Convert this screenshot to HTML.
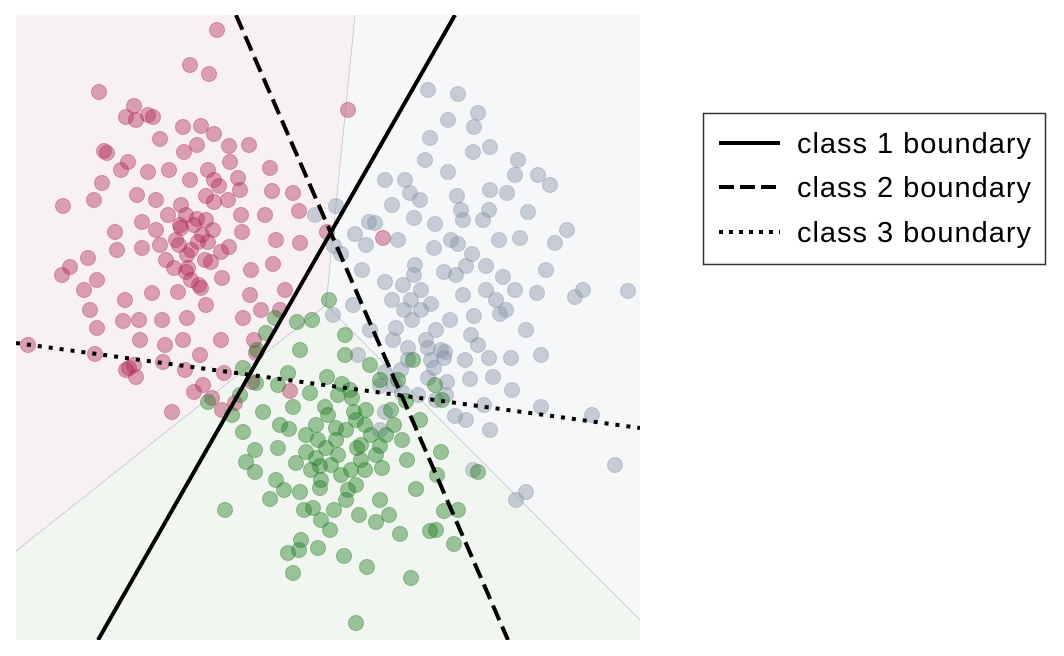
<!DOCTYPE html>
<html><head><meta charset="utf-8"><style>
html,body{margin:0;padding:0;background:#fff;}
svg{display:block;font-family:"Liberation Sans",sans-serif;}
</style></head><body>
<svg id="chart" width="1064" height="656" viewBox="0 0 1064 656">
<defs><clipPath id="clip"><rect x="16" y="15" width="624" height="625"/></clipPath></defs>
<g id="regions" clip-path="url(#clip)"></g>
<g id="points" clip-path="url(#clip)"></g>
<g id="lines" clip-path="url(#clip)"></g>
<g>
<rect x="703.5" y="113.5" width="342" height="151" fill="#fff" stroke="#333" stroke-width="1.5"/>
<line x1="719" y1="143" x2="780" y2="143" stroke="#000" stroke-width="4"/>
<text x="797" y="153" font-size="29" textLength="234">class 1 boundary</text>
<line x1="719" y1="187" x2="780" y2="187" stroke="#000" stroke-width="4" stroke-dasharray="15 6"/>
<text x="797" y="197" font-size="29" textLength="234">class 2 boundary</text>
<line x1="719" y1="232" x2="780" y2="232" stroke="#000" stroke-width="4" stroke-dasharray="4 6"/>
<text x="797" y="242" font-size="29" textLength="234">class 3 boundary</text>
</g>
</svg>
<script>
// data coordinates: x in [0,624], y in [0,625]
const class1X=[201,174,193,83,110,118,137,167,185,198,144,181,88,91,213,233,112,168,86,105,132,153,174,192,203,224,254,256,277,47,78,121,140,165,190,225,249,283,99,126,164,181,197,226,260,284,54,72,101,126,144,171,189,213,235,257,68,81,109,136,162,183,206,234,269,107,123,146,171,190,227,264,81,124,149,167,184,205,238,245,46,74,113,120,147,169,187,208,240,12,79,156,178,196,367,332,311,274,236,219,206,170,178,186,192,160,165,175,182,190,198,150,158,170,175,185,195,205,212,140,152,163,172,120,132,198,214,222,110,118];
const class1Y=[610,575,566,548,523,534,523,513,514,506,501,495,489,487,494,495,478,488,457,470,468,470,460,470,454,450,472,449,447,434,440,445,440,435,444,425,425,429,408,418,415,421,410,408,400,397,373,382,390,392,395,385,380,393,370,376,350,360,340,347,348,355,362,345,350,319,320,320,322,335,322,330,312,300,295,300,285,300,300,330,365,330,272,263,278,270,255,267,287,295,286,228,248,242,402,530,408,249,258,237,230,425,415,405,398,400,412,390,398,420,438,380,372,368,360,352,378,388,440,410,425,395,372,520,525,460,478,462,270,275];
const class2X=[412,442,462,458,474,432,414,457,409,432,369,389,394,376,404,441,474,499,502,522,534,491,473,512,551,539,467,447,419,398,353,339,325,382,399,418,442,456,483,504,530,559,612,567,521,499,487,470,450,428,405,387,369,346,318,376,396,415,434,458,484,510,525,495,473,449,429,412,392,377,354,337,317,342,369,412,431,454,477,496,525,576,599,510,500,457,468,450,439,474,430,420,402,386,369,364,364,299,320,359,410,420,425,415,405,395,440,447,455,462,418,428,398,388,380,435,445,470,480,490,378,385,392,350];
const class2Y=[550,546,527,513,493,520,502,488,480,468,460,460,447,435,440,444,450,465,480,465,455,447,430,428,410,397,420,420,416,422,418,406,386,400,375,392,396,386,400,402,370,343,349,350,347,350,363,374,374,368,350,355,358,370,394,340,320,336,320,324,326,310,285,282,282,280,288,292,292,300,310,335,325,285,268,262,258,261,263,250,233,225,175,148,140,170,235,220,224,210,245,240,245,247,228,210,254,425,434,417,300,310,290,280,330,340,365,345,305,295,272,282,365,330,312,400,430,350,340,330,255,270,280,395];
const class3X=[192,227,241,250,259,281,296,313,329,329,284,272,262,240,224,216,227,247,239,239,262,264,277,294,311,326,336,354,364,382,397,419,426,404,386,364,349,338,320,302,290,280,260,254,284,304,332,366,391,425,462,421,400,373,360,343,314,285,272,283,302,328,351,384,428,442,414,420,438,395,340,277,209,304,322,341,375,390,349,309,364,297,334,273,230,300,310,320,330,340,350,355,345,335,325,315,305,295,290,300,312,322,345,360,370,378,340,330,318,305,288,268];
const class3Y=[238,272,290,307,322,318,320,340,305,285,290,267,255,257,245,225,208,228,190,168,192,215,233,247,263,256,242,275,260,260,280,255,240,220,200,194,215,228,212,200,188,177,160,141,148,152,150,172,180,188,168,165,151,125,118,125,110,100,87,90,92,84,73,106,129,130,109,110,96,62,17,67,130,174,185,192,230,239,170,233,140,132,250,211,178,182,192,200,210,220,230,205,180,170,165,175,160,170,205,215,225,245,195,185,205,215,155,140,130,120,130,150];
const regionPolys={
  class1:[[0,89],[0,625],[339,625],[310,335]],
  class2:[[339,625],[624,625],[624,20],[310,335]],
  class3:[[0,89],[310,335],[624,20],[624,0],[0,0]]
};
const regionEdgesX=[[0,310],[339,310],[624,310]];
const regionEdgesY=[[89,335],[625,335],[20,335]];
const boundaryX1=[82,220,0];
const boundaryY1=[0,625,297];
const boundaryX2=[439,492,624];
const boundaryY2=[625,0,212];
const boundaryDash=["none","16 7","4 7"];

const X0=16,Y0=640;
const sx=v=>X0+v;
const sy=v=>Y0-v;
const ns="http://www.w3.org/2000/svg";
const reg=document.getElementById('regions');
const fills={class1:"#f8f1f4",class2:"#f6f7f9",class3:"#f2f6f0"};
for(const k in regionPolys){
  const p=document.createElementNS(ns,'polygon');
  p.setAttribute('points',regionPolys[k].map(q=>sx(q[0])+','+sy(q[1])).join(' '));
  p.setAttribute('fill',fills[k]);
  p.setAttribute('stroke',fills[k]);
  p.setAttribute('stroke-width','1');
  
  
  reg.appendChild(p);
}
for(let i=0;i<regionEdgesX.length;i++){
  const l=document.createElementNS(ns,'line');
  l.setAttribute('x1',sx(regionEdgesX[i][0]));
  l.setAttribute('y1',sy(regionEdgesY[i][0]));
  l.setAttribute('x2',sx(regionEdgesX[i][1]));
  l.setAttribute('y2',sy(regionEdgesY[i][1]));
  l.setAttribute('stroke','#c4c4d2');
  l.setAttribute('stroke-width','0.8');
  
  
  reg.appendChild(l);
}
const pts=document.getElementById('points');
function drawClass(xs,ys,color,name){
  for(let i=0;i<xs.length;i++){
    const c=document.createElementNS(ns,'circle');
    c.setAttribute('cx',sx(xs[i]));
    c.setAttribute('cy',sy(ys[i]));
    c.setAttribute('r',7.5);
    c.setAttribute('fill',color);
    c.setAttribute('fill-opacity','0.42');
    c.setAttribute('stroke',color);
    c.setAttribute('stroke-opacity','0.4');
    
    
    pts.appendChild(c);
  }
}
drawClass(class1X,class1Y,"#b22858","class-1");
drawClass(class2X,class2Y,"#8292a6","class-2");
drawClass(class3X,class3Y,"#1c7c1c","class-3");
const lg=document.getElementById('lines');
for(let i=0;i<boundaryX1.length;i++){
  const l=document.createElementNS(ns,'line');
  l.setAttribute('x1',sx(boundaryX1[i]));
  l.setAttribute('y1',sy(boundaryY1[i]));
  l.setAttribute('x2',sx(boundaryX2[i]));
  l.setAttribute('y2',sy(boundaryY2[i]));
  l.setAttribute('stroke','#000');
  l.setAttribute('stroke-width','4');
  if(boundaryDash[i]!=="none") l.setAttribute('stroke-dasharray',boundaryDash[i]);
  
  
  lg.appendChild(l);
}
</script>
</body></html>
